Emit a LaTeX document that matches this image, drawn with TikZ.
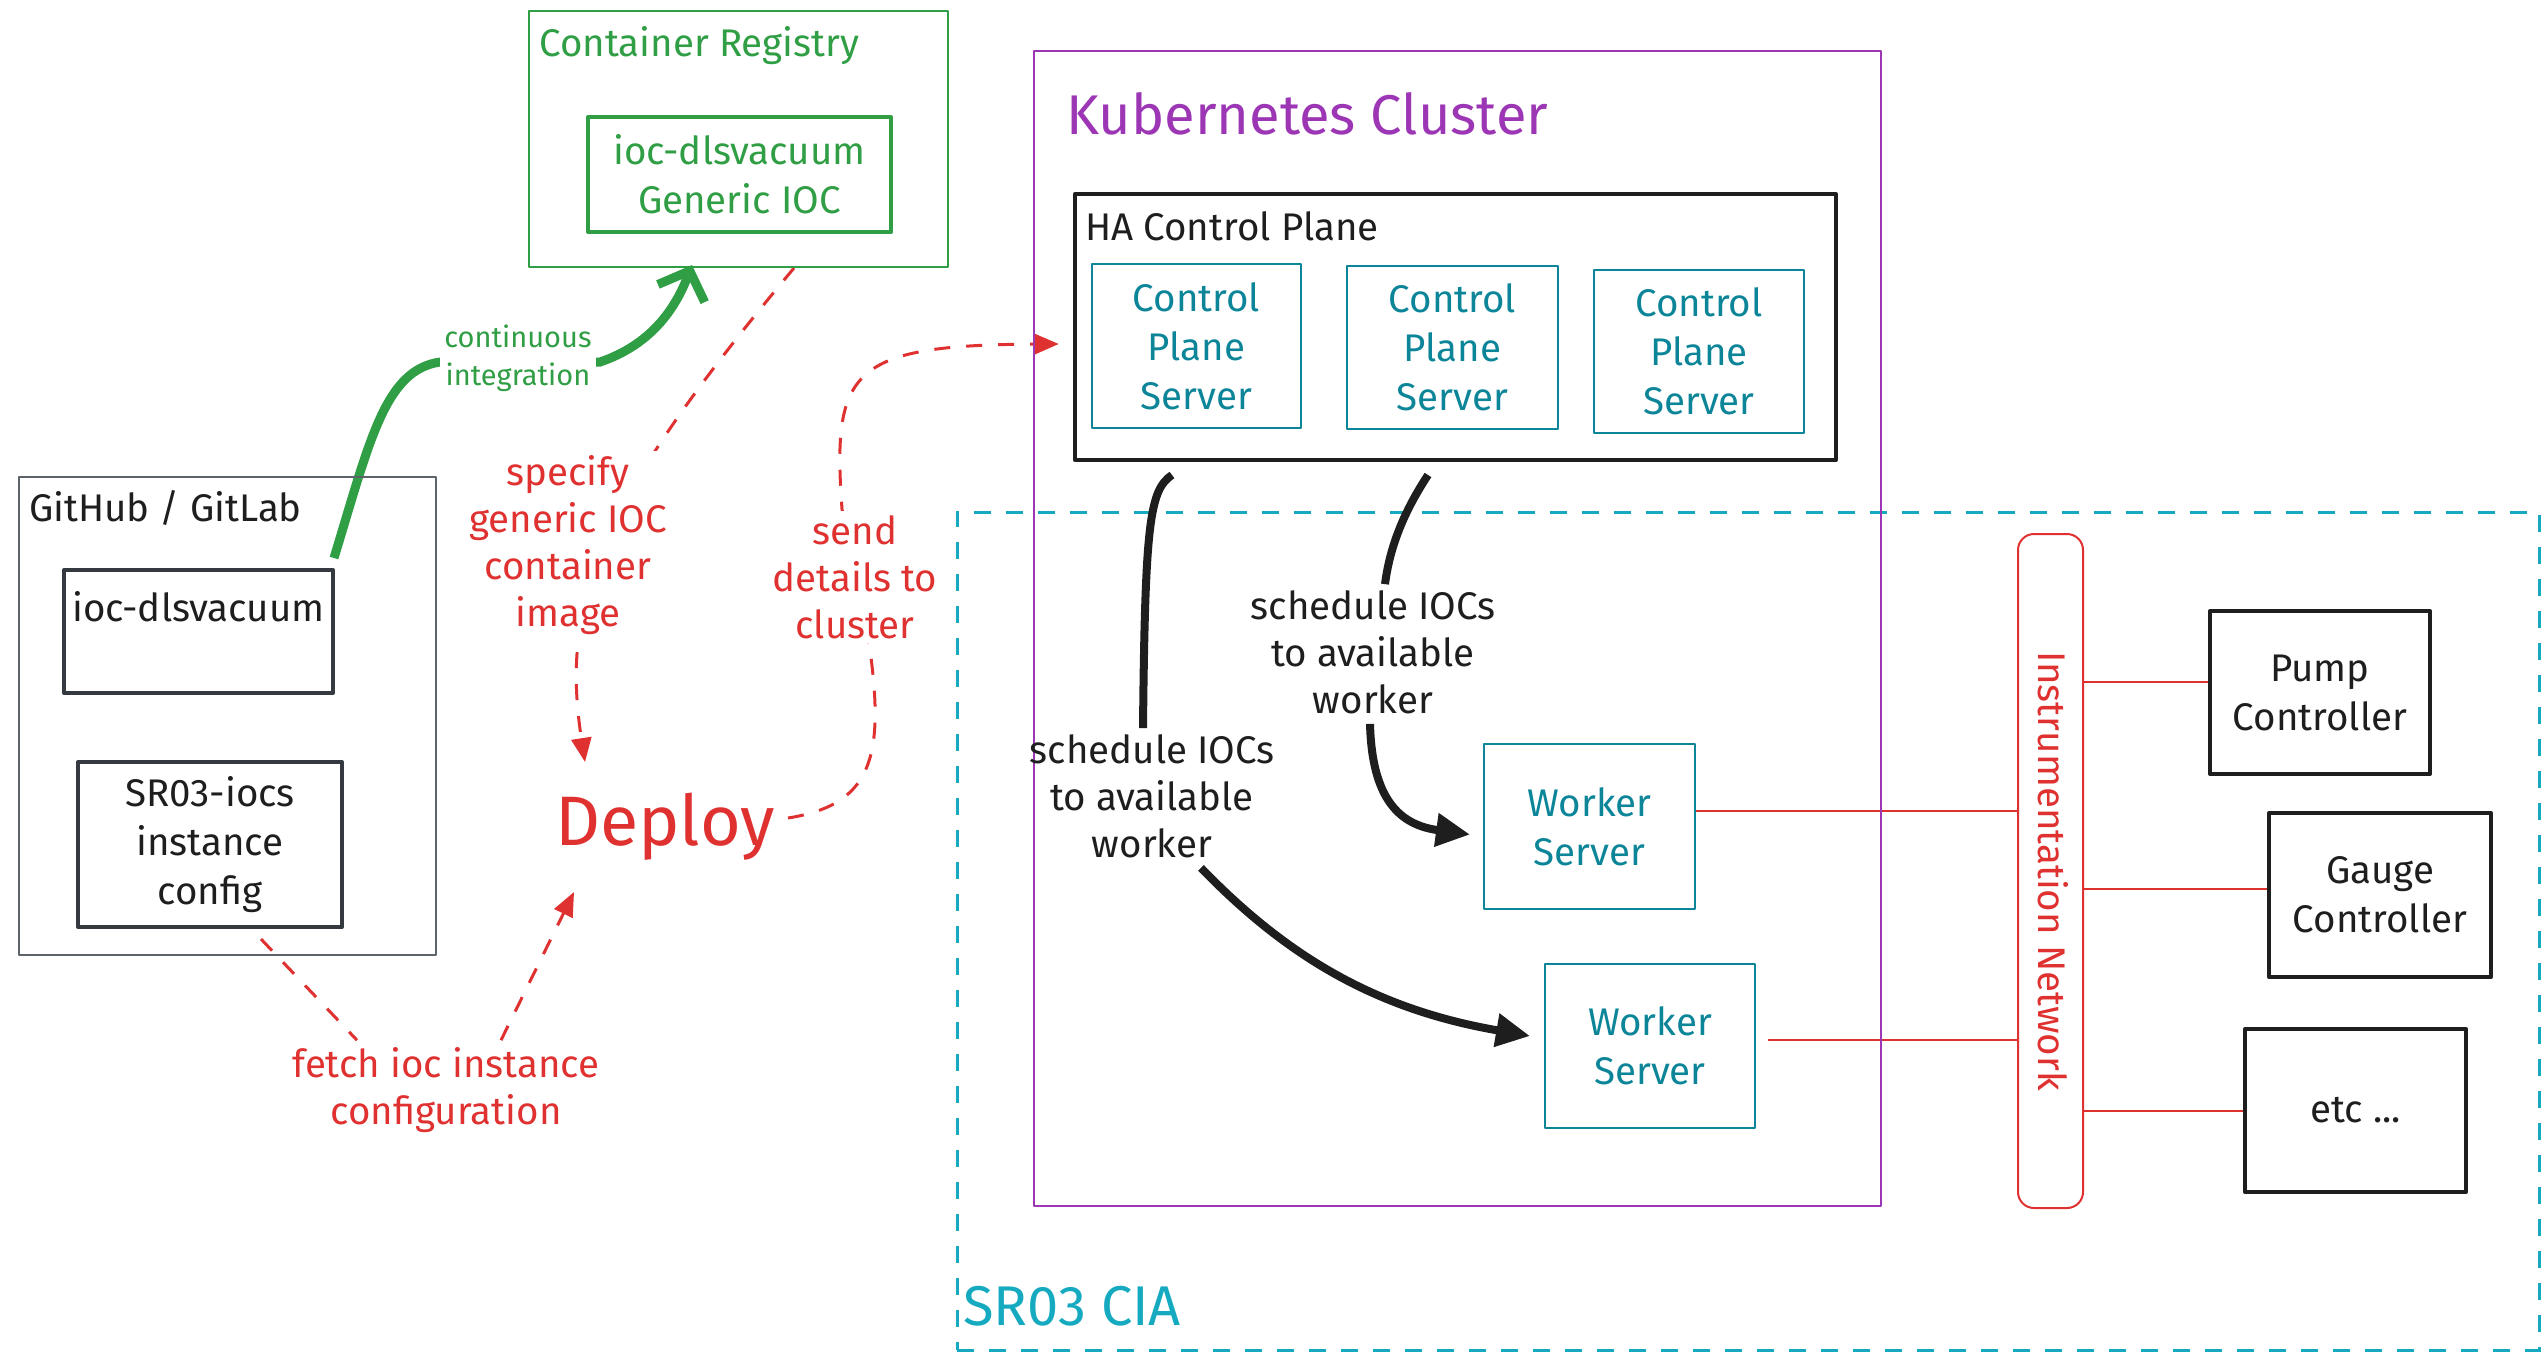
\documentclass[tikz,border=0pt]{standalone}
\usepackage{fontspec}
\setmainfont{Fira Sans}
\usetikzlibrary{arrows.meta,calc}
\definecolor{exGreen}{HTML}{2F9E44}
\definecolor{exRed}{HTML}{E03131}
\definecolor{exPurple}{HTML}{9C36B5}
\definecolor{exTeal}{HTML}{0C8599}
\definecolor{exCyan}{HTML}{15AABF}
\definecolor{exInk}{HTML}{1E1E1E}
\definecolor{exGray}{HTML}{5C636A}
\definecolor{exDark}{HTML}{343A40}
\pgfdeclarelayer{links}
\pgfsetlayers{links,main}
\begin{document}
\begin{tikzpicture}[x=1pt,y=-1pt,line cap=round,line join=round,
  box/.style={draw,rectangle,inner sep=0pt},
  body/.style={font=\fontsize{38.5}{49}\selectfont,align=center,inner sep=2pt},
  title/.style={font=\fontsize{38.5}{47}\selectfont,anchor=west,inner sep=0pt},
  note/.style={font=\fontsize{38.5}{47}\selectfont,align=center,inner sep=2pt},
  cover/.style={fill=white,inner sep=4pt},
  dashlink/.style={draw=exRed,line width=3pt,dash pattern=on 16pt off 16pt},
  redtip/.style={-{Triangle[length=24pt,width=20pt]}},
  schedlink/.style={draw=exInk,line width=8pt},
  schedtip/.style={-{Triangle[length=34pt,width=32pt]}},
  wire/.style={draw=exRed,line width=2pt}]
\useasboundingbox (0,0) rectangle (2542,1353);

% ---------- container registry ----------
\node[box,draw=exGreen,line width=2pt,minimum width=419pt,minimum height=256pt] (reg) at (738.5,139) {};
\node[title,text=exGreen] (regT) at (539,46) {Container Registry};
\node[box,draw=exGreen,line width=4pt,minimum width=303pt,minimum height=115pt,body,text=exGreen] (regimg) at (739.5,174.5) {ioc-dlsvacuum\\Generic IOC};

% ---------- source repositories ----------
\node[box,draw=exGray,line width=2pt,minimum width=417pt,minimum height=478pt] (gh) at (227.5,716) {};
\node[title,text=exInk] (ghT) at (29,508) {GitHub / GitLab};
\node[box,draw=exDark,line width=4pt,minimum width=269pt,minimum height=123pt] (repo) at (198.5,631.5) {};
\node[body,text=exInk] (repoT) at (198.5,607) {ioc-dlsvacuum};
\node[box,draw=exDark,line width=4pt,minimum width=264pt,minimum height=165pt,body,text=exInk] (cfg) at (210,844.5) {SR03-iocs\\instance\\config};

% ---------- deploy ----------
\node[font=\fontsize{70}{80}\selectfont,text=exRed,inner sep=0pt] (deploy) at (665,827) {Deploy};

% ---------- kubernetes cluster ----------
\node[box,draw=exPurple,line width=2.5pt,minimum width=847pt,minimum height=1155pt] (k8s) at (1457.5,628.5) {};
\node[title,text=exPurple,font=\fontsize{56}{62}\selectfont] (k8sT) at (1066,114) {Kubernetes Cluster};
\node[box,draw=exInk,line width=4pt,minimum width=761pt,minimum height=266pt] (ha) at (1455.5,327) {};
\node[title,text=exInk] (haT) at (1085,226) {HA Control Plane};
\node[box,draw=exTeal,line width=2pt,minimum width=209pt,minimum height=164pt,body,text=exTeal] (cp1) at (1196.5,346) {Control\\Plane\\Server};
\node[box,draw=exTeal,line width=2pt,minimum width=211pt,minimum height=163pt,body,text=exTeal] (cp2) at (1452.5,347.5) {Control\\Plane\\Server};
\node[box,draw=exTeal,line width=2pt,minimum width=210pt,minimum height=163pt,body,text=exTeal] (cp3) at (1699,351.5) {Control\\Plane\\Server};
\node[box,draw=exTeal,line width=2pt,minimum width=211pt,minimum height=165pt,body,text=exTeal] (w1) at (1589.5,826.5) {Worker\\Server};
\node[box,draw=exTeal,line width=2pt,minimum width=210pt,minimum height=164pt,body,text=exTeal] (w2) at (1650,1046) {Worker\\Server};

% ---------- CIA area and instrumentation ----------
\node[title,text=exCyan,font=\fontsize{56}{60}\selectfont] (ciaT) at (963,1306) {SR03 CIA};
\node[box,draw=exRed,line width=2pt,rounded corners=16pt,minimum width=65pt,minimum height=674pt] (net) at (2050.5,871) {};
\node[body,text=exRed,rotate=-90] (netT) at (2053,871) {Instrumentation Network};
\node[box,draw=exInk,line width=4pt,minimum width=220pt,minimum height=163pt,body,text=exInk] (pump) at (2320,692.5) {Pump\\Controller};
\node[box,draw=exInk,line width=4pt,minimum width=222pt,minimum height=164pt,body,text=exInk] (gauge) at (2380,895) {Gauge\\Controller};
\node[box,draw=exInk,line width=4pt,minimum width=221pt,minimum height=163pt,body,text=exInk] (etc) at (2355.5,1110.5) {etc ...};

% ---------- connector labels ----------
\node[cover,text=exGreen,font=\fontsize{29}{38}\selectfont,align=center] (ci) at (518,358) {continuous\\integration};
\node[note,cover,text=exRed] (spec) at (568,545) {specify\\generic IOC\\container\\image};
\node[note,cover,text=exRed] (send) at (855,577) {send\\details to\\cluster};
\node[note,text=exRed] (fetch) at (446,1090) {fetch ioc instance\\configuration};
\node[note,text=exInk] (sched1) at (1373,652) {schedule IOCs\\to available\\worker};
\node[note,text=exInk] (sched2) at (1152,796) {schedule IOCs\\to available\\worker};

% ---------- connectors ----------
\begin{pgfonlayer}{links}
\node[box,draw=exCyan,line width=3pt,dash pattern=on 17pt off 15pt,minimum width=1582pt,minimum height=838pt] (cia) at (1748,931) {};

% build pipeline pushes the generic IOC image
\draw[exGreen,line width=9pt,-{Straight Barb[length=24pt,width=50pt]}]
  ($(repo.north east)+(-1,-10)$) .. controls (370,440) and (385,370) .. (440,362)
  -- (600,362) .. controls (650,345) and (675,310) .. ($(reg.south)+(-46.5,-3)$);

% deployment inputs
\draw[dashlink,redtip] ($(reg.south)+(55.5,0)$) .. controls (600,500) and (560,600) .. ($(deploy.center)+(-80,-65)$);
\draw[dashlink] ($(cfg.south)+(51,10)$) -- ($(fetch.north)+(-89,-5)$);
\draw[dashlink,redtip] ($(fetch.north)+(55,-5)$) -- ($(deploy.center)+(-91,65)$);

% deployment output to the cluster
\draw[dashlink,redtip] ($(deploy.center)+(123,-9)$) .. controls (870,805) and (885,760) .. (870,650)
  -- (842,509) .. controls (832,370) and (850,345) .. ($(k8s.west)+(26,-284.5)$);

% scheduling
\draw[schedlink] ($(ha.south)+(-283.5,13)$) .. controls (1150,490) and (1145,520) .. ($(sched2.north)+(-9,-4)$);
\draw[schedlink,schedtip] ($(sched2.south)+(49,8)$) .. controls (1290,960) and (1380,1010) .. ($(w2.west)+(-14,-10)$);
\draw[schedlink] ($(ha.south)+(-27.5,13)$) .. controls (1405,510) and (1390,545) .. ($(sched1.north)+(12,-4)$);
\draw[schedlink,schedtip] ($(sched1.south)+(-3,8)$) .. controls (1372,800) and (1400,825) .. ($(w1.west)+(-13,8)$);

% instrumentation network wiring
\draw[wire] let \p1=($(w1.east)+(0,-15.5)$), \p2=(net.west) in (\p1) -- (\x2,\y1);
\draw[wire] let \p1=($(w2.east)+(12,-6)$), \p2=(net.west) in (\p1) -- (\x2,\y1);
\draw[wire] let \p1=($(pump.west)+(0,-10.5)$), \p2=(net.east) in (\p1) -- (\x2,\y1);
\draw[wire] let \p1=($(gauge.west)+(0,-6)$), \p2=(net.east) in (\p1) -- (\x2,\y1);
\draw[wire] let \p1=(etc.west), \p2=(net.east) in (\p1) -- (\x2,\y1);
\end{pgfonlayer}
\end{tikzpicture}
\end{document}
